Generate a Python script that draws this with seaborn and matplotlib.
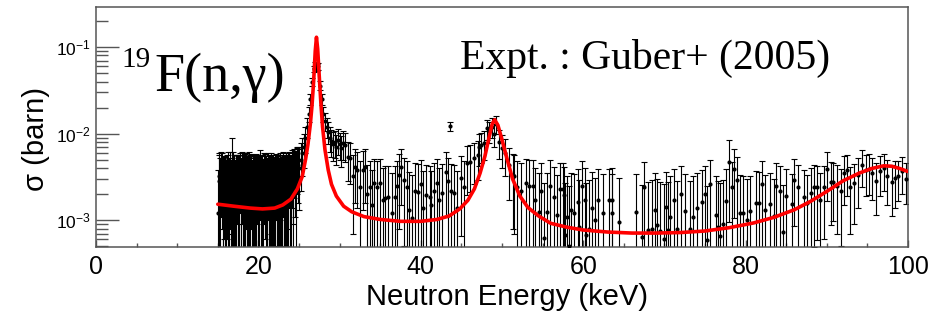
import numpy as np
import pandas as pd
import matplotlib
matplotlib.use('Agg')
import matplotlib.pyplot as plt
import seaborn as sns

# Data (sigma in 1e-3 barn = mb)

energy_kev = [
    # 15-25 keV
    15.0, 15.2, 15.4, 15.6, 15.8, 16.0, 16.2, 16.4, 16.6, 16.8,
    17.0, 17.2, 17.4, 17.6, 17.8, 18.0, 18.2, 18.4, 18.6, 18.8,
    19.0, 19.2, 19.4, 19.6, 19.8, 20.0, 20.2, 20.4, 20.6, 20.8,
    21.0, 21.2, 21.4, 21.6, 21.8, 22.0, 22.2, 22.4, 22.6, 22.8,
    23.0, 23.2, 23.4, 23.6, 23.8, 24.0, 24.2, 24.4, 24.6, 24.8,
    25.0,
    # 15-25 keV, in between
    15.1, 15.3, 15.5, 15.7, 15.9, 16.1, 16.3, 16.5, 16.7, 16.9,
    17.1, 17.3, 17.5, 17.7, 17.9, 18.1, 18.3, 18.5, 18.7, 18.9,
    19.1, 19.3, 19.5, 19.7, 19.9, 20.1, 20.3, 20.5, 20.7, 20.9,
    21.1, 21.3, 21.5, 21.7, 21.9, 22.1, 22.3, 22.5, 22.7, 22.9,
    23.1, 23.3, 23.5, 23.7, 23.9, 24.1, 24.3, 24.5, 24.7, 24.9,
    # first resonance
    25.2, 25.4, 25.6, 25.8, 26.0, 26.2, 26.4, 26.6, 26.8, 27.0,
    27.2, 27.4, 27.6, 27.8, 28.0, 28.2, 28.4, 28.6, 28.8, 29.0,
    29.2, 29.4, 29.6, 29.8, 30.0, 30.2, 30.4, 30.7, 31.0,
    # 31-48 keV
    31.3, 31.6, 31.9, 32.1, 32.5, 32.9, 33.1, 33.4, 33.7, 34.0,
    34.2, 34.6, 35.0, 35.4, 35.6, 36.0, 36.5, 36.8, 37.1, 37.3,
    37.5, 37.9, 38.3, 38.5, 38.9, 39.3, 39.7, 40.0, 40.3, 40.7,
    41.1, 41.3, 41.6, 42.0, 42.3, 42.6, 43.1, 43.3, 43.6, 43.7,
    44.1, 44.5, 44.9, 45.3, 45.7, 46.1, 46.6, 47.0, 47.2, 47.4,
    47.8,
    # second resonance
    48.2, 48.4, 48.8, 49.0, 49.2, 49.6, 50.0, 50.4, 50.9, 51.3,
    51.5, 51.9, 52.3, 52.9, 53.3, 53.8, 54.1, 54.5, 54.8, 55.2,
    55.6, 55.9, 56.4, 56.8, 57.1,
    # 57-72 keV
    57.5, 57.6, 57.8, 58.0, 58.2, 58.5, 58.9, 59.3, 59.5, 59.9,
    60.2, 60.4, 60.7, 61.1, 61.4, 61.8, 62.5, 63.2, 63.5, 63.6,
    64.4, 66.5, 67.2, 67.5, 68.0, 68.5, 68.9, 69.1, 69.4, 69.9,
    70.2, 70.4, 70.7, 71.2, 71.5,
    # 72-86 keV
    72.0, 72.5, 73.1, 73.5, 74.0, 74.6, 75.0, 75.3, 75.6, 76.3,
    76.6, 76.9, 77.2, 77.6, 77.9, 78.3, 78.6, 79.0, 79.3, 79.7,
    80.2, 80.6, 81.3, 81.6, 82.0, 82.4, 83.0, 83.5, 83.8, 84.2,
    84.6, 85.0, 85.7, 86.0,
    # 86-100 keV
    86.5, 87.2, 87.6, 88.1, 88.4, 88.8, 89.2, 89.6, 90.0, 90.5,
    90.8, 91.2, 91.7, 92.1, 92.5, 92.9, 93.3, 93.8, 94.3, 94.8,
    95.2, 95.6, 96.0, 96.6, 97.0, 97.4, 98.0, 98.4, 98.8, 99.3,
    99.8,
]

sigma_mb = [
    1.2, 3.2, 3.6, 2.4, 3.0, 2.0, 3.4, 2.6, 1.8, 4.0,
    2.9, 2.2, 3.3, 2.7, 1.9, 3.5, 2.5, 3.1, 2.1, 3.6,
    2.8, 1.7, 3.0, 2.4, 3.3, 2.0, 3.7, 2.6, 1.9, 3.2,
    2.3, 3.5, 2.7, 1.8, 3.0, 2.2, 3.4, 2.5, 3.1, 2.0,
    3.6, 2.6, 3.2, 2.3, 3.8, 2.9, 3.5, 4.2, 3.3, 4.6,
    4.0,
    2.8, 2.2, 3.4, 1.9, 2.7, 3.1, 2.0, 3.5, 2.4, 2.9,
    1.8, 3.0, 2.5, 3.6, 2.3, 2.8, 1.9, 3.4, 2.6, 2.2,
    3.3, 2.5, 1.8, 3.1, 2.7, 2.4, 3.0, 2.1, 3.4, 2.6,
    1.9, 2.9, 3.3, 2.4, 2.0, 3.1, 2.7, 1.8, 3.5, 2.6,
    2.2, 3.0, 2.8, 3.4, 2.5, 3.9, 3.1, 3.7, 4.4, 4.3,
    5.0, 6.0, 7.0, 9.0, 12.0, 17.0, 25.0, 40.0, 56.0, 62.0,
    58.0, 60.0, 36.0, 25.0, 17.0, 14.0, 12.0, 10.5, 9.0, 8.2,
    7.6, 8.0, 7.0, 8.4, 7.6, 6.8, 7.8, 7.4, 5.4,
    5.2, 3.2, 4.1, 3.8, 2.4, 3.8, 4.1, 2.0, 2.4, 1.5,
    2.7, 2.4, 2.7, 1.7, 1.8, 1.86, 1.2, 1.86, 2.5, 3.3,
    4.1, 2.9, 2.4, 1.3, 1.05, 2.2, 2.1, 2.6, 1.37, 1.94,
    1.86, 1.5, 2.2, 2.7, 1.7, 2.05, 3.6, 2.8, 12.2, 2.2,
    2.05, 1.37, 3.05, 2.4, 4.55, 4.7, 5.2, 5.6, 7.0, 7.4,
    7.8,
    11.5, 10.7, 12.0, 10.0, 13.0, 8.0, 6.8, 5.9, 4.3, 3.3,
    3.2, 2.4, 2.2, 2.7, 2.5, 2.5, 1.7, 1.25, 2.2, 0.62,
    1.25, 2.5, 1.86, 1.14, 2.3,
    2.3, 1.95, 0.68, 1.08, 0.5, 1.3, 1.2, 1.63, 0.84, 2.47,
    1.73, 0.67, 0.8, 1.4, 1.0, 1.7, 1.2, 1.7, 1.2, 1.7,
    0.96, 1.25, 0.64, 2.4, 0.77, 0.8, 1.3, 0.87, 0.75, 0.61,
    1.43, 0.77, 1.1, 1.7, 0.8,
    2.03, 1.28, 0.8, 1.1, 1.4, 1.63, 2.03, 0.59, 2.6, 1.14,
    0.84, 0.66, 0.9, 1.66, 4.65, 2.4, 3.86, 2.9, 1.2, 1.2,
    1.0, 1.28, 1.58, 1.58, 2.6, 1.3, 1.53, 1.11, 2.5, 2.2,
    0.73, 1.9, 1.53, 2.95,
    2.4, 1.86, 1.56, 2.07, 2.39, 2.39, 1.7, 2.4, 3.86, 2.77,
    2.77, 2.5, 2.2, 3.5, 3.78, 2.4, 2.7, 3.3, 4.4, 3.78,
    3.86, 3.5, 2.85, 3.7, 3.96, 3.2, 2.73, 3.1, 3.25, 3.7,
    3.03,
]

sigma_err_mb = [
    2.6, 2.8, 2.5, 2.9, 2.4, 3.0, 2.7, 2.6, 3.1, 5.0,
    2.8, 3.4, 2.4, 2.9, 3.0, 2.6, 3.1, 2.7, 3.2, 2.5,
    2.8, 3.3, 2.6, 3.0, 2.4, 3.1, 2.7, 2.9, 3.2, 2.6,
    3.0, 2.5, 2.8, 3.3, 2.7, 3.1, 2.4, 3.0, 2.6, 3.2,
    2.5, 2.9, 2.7, 3.1, 2.4, 2.8, 2.6, 2.4, 2.9, 2.5,
    2.7,
    2.9, 3.1, 2.6, 3.2, 2.8, 2.5, 3.0, 2.7, 2.9, 3.3,
    3.1, 2.6, 3.0, 2.4, 2.9, 3.1, 3.2, 2.6, 2.8, 3.3,
    2.5, 3.0, 3.4, 2.7, 2.8, 3.1, 2.6, 3.0, 2.5, 2.9,
    3.3, 2.7, 2.6, 3.0, 3.2, 2.6, 2.9, 3.3, 2.5, 2.8,
    3.1, 2.7, 2.9, 2.6, 3.0, 2.5, 2.8, 2.6, 2.4, 2.7,
    2.8, 2.8, 3.0, 3.0, 3.2, 3.4, 3.8, 4.5, 5.0, 5.0,
    5.0, 5.0, 4.2, 3.8, 3.4, 3.2, 3.0, 3.0, 2.9, 2.8,
    2.8, 2.8, 2.7, 2.8, 2.7, 2.7, 2.8, 2.7, 2.6,
    2.6, 2.5, 2.5, 2.4, 2.4, 2.5, 2.5, 2.3, 2.4, 2.3,
    2.4, 2.4, 2.4, 2.3, 2.4, 2.4, 2.3, 2.4, 2.3, 2.5,
    2.6, 2.4, 2.4, 2.3, 2.3, 2.4, 2.4, 2.4, 2.3, 2.4,
    2.4, 2.2, 2.4, 2.4, 2.3, 2.4, 2.5, 2.4, 1.5, 2.3,
    2.3, 2.3, 2.4, 2.4, 2.6, 2.6, 2.6, 2.7, 2.8, 2.8,
    2.8,
    3.0, 3.0, 3.0, 3.0, 3.0, 2.9, 2.8, 2.7, 2.6, 2.5,
    2.5, 2.4, 2.4, 2.4, 2.4, 2.4, 2.3, 2.3, 2.4, 2.1,
    2.3, 2.4, 2.3, 2.2, 2.3,
    2.3, 2.2, 2.0, 2.2, 2.0, 2.2, 2.2, 2.3, 2.1, 2.3,
    2.3, 2.0, 2.1, 2.2, 2.1, 2.2, 2.2, 2.2, 2.2, 2.3,
    2.1, 2.2, 1.9, 2.3, 2.0, 2.1, 2.2, 2.1, 2.0, 2.0,
    2.2, 2.0, 2.1, 2.2, 2.0,
    2.2, 2.1, 2.0, 2.1, 2.1, 2.2, 2.2, 1.9, 2.3, 2.1,
    2.0, 2.0, 2.0, 2.2, 3.7, 2.3, 2.8, 2.5, 2.1, 2.0,
    2.0, 2.0, 2.1, 2.0, 2.2, 2.0, 2.0, 1.9, 2.1, 2.0,
    1.8, 2.0, 1.9, 2.1,
    2.0, 1.9, 1.8, 1.9, 1.9, 1.8, 1.8, 1.8, 2.2, 1.9,
    1.8, 1.8, 1.7, 2.0, 1.9, 1.7, 1.8, 1.9, 2.0, 1.9,
    1.9, 1.8, 1.7, 1.8, 1.8, 1.7, 1.6, 1.7, 1.6, 1.7,
    1.5,
]

# evaluated (fitted) curve, also
curve_kev = [
    15.0, 17.0, 19.0, 20.5, 22.0, 23.0, 24.0, 24.8, 25.4, 25.8,
    26.1, 26.4, 26.6, 26.8, 27.0, 27.15, 27.3, 27.5, 27.7, 27.9,
    28.2, 28.6, 29.0, 29.6, 30.5, 31.5, 33.0, 35.0, 37.5, 40.0,
    42.0, 43.5, 44.8, 45.8, 46.6, 47.3, 47.9, 48.4, 48.8, 49.1,
    49.5, 50.0, 50.6, 51.3, 52.2, 53.2, 54.5, 56.0, 58.0, 60.0,
    63.0, 66.0, 69.0, 72.0, 75.0, 78.0, 81.0, 83.5, 86.0, 88.0,
    90.0, 92.0, 94.0, 95.5, 97.0, 98.0, 99.0, 100.0,
]
curve_mb = [
    1.53, 1.45, 1.38, 1.35, 1.38, 1.5, 1.75, 2.3, 3.2, 5.0,
    7.5, 13.0, 21.0, 40.0, 90.0, 130.0, 95.0, 45.0, 22.0, 12.0,
    6.5, 3.8, 2.6, 1.9, 1.45, 1.25, 1.1, 1.02, 0.97, 0.97,
    1.02, 1.12, 1.35, 1.7, 2.3, 3.5, 5.5, 9.0, 13.0, 14.5,
    12.5, 8.5, 5.2, 3.0, 1.9, 1.4, 1.12, 0.92, 0.83, 0.77,
    0.73, 0.71, 0.71, 0.72, 0.75, 0.82, 0.93, 1.08, 1.32, 1.65,
    2.15, 2.85, 3.5, 3.95, 4.25, 4.2, 3.95, 3.65,
]

assert len(energy_kev) == len(sigma_mb) == len(sigma_err_mb)

df = pd.DataFrame({'E': energy_kev,
                   'sigma': np.array(sigma_mb) * 1e-3,
                   'err': np.array(sigma_err_mb) * 1e-3})
curve = pd.DataFrame({'E': curve_kev, 'sigma': np.array(curve_mb) * 1e-3})

# Style
sns.set_style('ticks')
plt.rcParams['font.family'] = ['Liberation Sans', 'DejaVu Sans']
plt.rcParams['mathtext.fontset'] = 'custom'
plt.rcParams['mathtext.rm'] = 'Liberation Sans'
plt.rcParams['text.color'] = 'black'
plt.rcParams['axes.labelcolor'] = 'black'

fig = plt.figure(figsize=(9.33, 3.22), dpi=100)
ax = fig.add_axes([0.1029, 0.2329, 0.8703, 0.7451])

ax.errorbar(df['E'], df['sigma'], yerr=df['err'], fmt='none',
            ecolor='black', elinewidth=0.8, capsize=2.2, capthick=0.8, zorder=2)
sns.scatterplot(data=df, x='E', y='sigma', ax=ax, color='black', s=9,
                marker='o', linewidth=0, zorder=3)
sns.lineplot(data=curve, x='E', y='sigma', ax=ax, color='red', lw=2.6,
             sort=False, zorder=4)

ax.set_yscale('log')
ax.set_xlim(0, 100)
ax.set_ylim(4.9e-4, 0.29)
ax.set_xticks([0, 20, 40, 60, 80, 100])
ax.set_xticks(np.arange(0, 101, 5), minor=True)

ax.tick_params(axis='x', which='major', direction='in', length=5, width=1,
               color='#555555', labelcolor='black', labelsize=18, pad=6, top=False)
ax.tick_params(axis='x', which='minor', direction='in', length=2.6, width=1,
               color='#555555', top=False)
ax.tick_params(axis='y', which='major', direction='in', length=16.5, width=1,
               color='#555555', labelcolor='black', labelsize=12.5, pad=3.5,
               right=False)
ax.tick_params(axis='y', which='minor', direction='in', length=8.5, width=1,
               color='#555555', right=False)

for sp in ax.spines.values():
    sp.set_color('#555555')
    sp.set_linewidth(1.1)

ax.set_xlabel('Neutron Energy (keV)', fontsize=21)
ax.set_ylabel('σ (barn)', fontsize=21)
ax.xaxis.set_label_coords(0.506, -0.15)
ax.yaxis.set_label_coords(-0.057, 0.45)

# annotations
fig.text(0.130, 0.792, '19', family='Liberation Serif', fontsize=21, va='baseline')
fig.text(0.166, 0.718, 'F(n,γ)', family='Liberation Serif', fontsize=39, va='baseline')
fig.text(0.493, 0.786, 'Expt. : Guber+ (2005)', family='Liberation Serif',
         fontsize=30, va='baseline')

fig.savefig('out.png', dpi=100)
